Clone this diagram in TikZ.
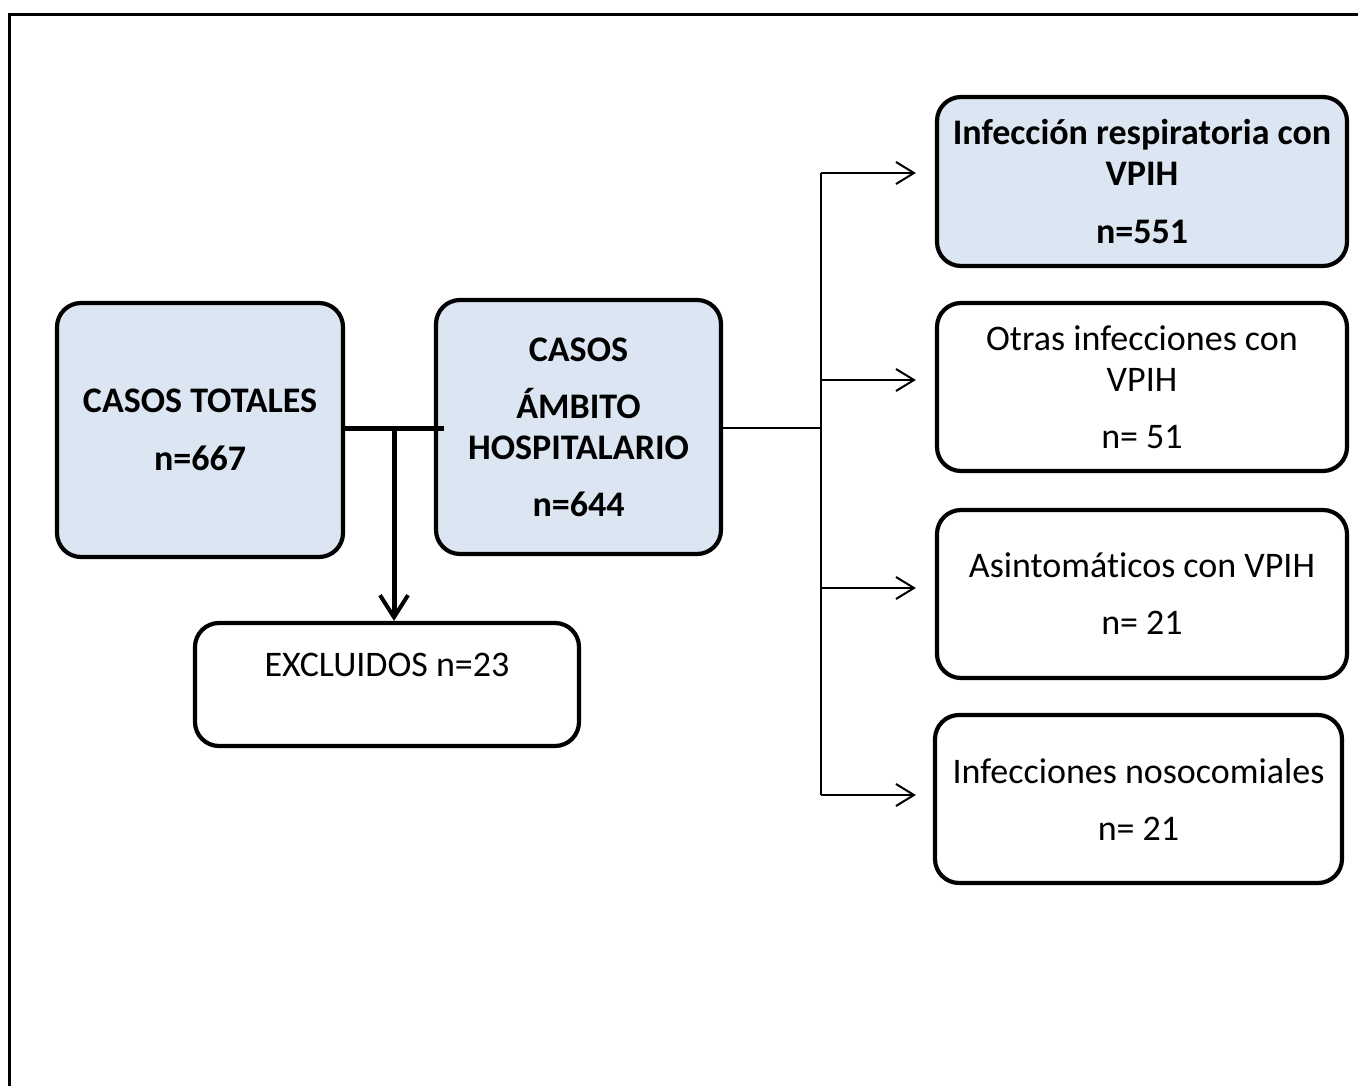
\documentclass[tikz,border=0pt]{standalone}
\usepackage{fontspec}
\setmainfont{Carlito}[Ligatures=NoCommon]
\usetikzlibrary{arrows.meta,calc}
\definecolor{boxblue}{HTML}{DCE6F2}
\begin{document}
\begin{tikzpicture}[x=1pt,y=-1pt,
  every node/.style={font=\fontsize{36}{41}\selectfont},
  box/.style={draw=black, line width=4.2pt, rounded corners=24pt, align=center, inner sep=0pt},
  bluebox/.style={box, fill=boxblue},
  whitebox/.style={box, fill=white},
  thinline/.style={line width=2pt},
  thickline/.style={line width=5pt},
  thinarrow/.style={thinline, -{Straight Barb[length=18pt,width=22pt,line width=2pt]}},
  thickarrow/.style={thickline, -{Straight Barb[length=22pt,width=28pt,line width=4pt]}}
]
\useasboundingbox (0,0) rectangle (1358,1086);
% outer frame (top and left edges)
\draw[line width=3.5pt] (9.5,1086) -- (9.5,14.5) -- (1358,14.5);

\node[bluebox, minimum width=286pt, minimum height=254pt] (tot) at (200,430)
  {\bfseries CASOS TOTALES\\[17pt]\bfseries n=667};
\node[bluebox, minimum width=285pt, minimum height=254pt] (hosp) at (578.5,427)
  {\bfseries CASOS\\[16pt]\bfseries ÁMBITO\\\bfseries HOSPITALARIO\\[16pt]\bfseries n=644};
\node[whitebox, minimum width=384pt, minimum height=123pt] (exc) at (387,684.5) {};
\node (exctext) at (387,665) {EXCLUIDOS n=23};

\node[bluebox, minimum width=410pt, minimum height=169pt] (r1) at (1142,181.5)
  {\bfseries Infección respiratoria con\\\bfseries VPIH\\[17pt]\bfseries n=551};
\node[whitebox, minimum width=410pt, minimum height=168pt] (r2) at (1142,387)
  {Otras infecciones con\\VPIH\\[16pt]n= 51};
\node[whitebox, minimum width=410pt, minimum height=168pt] (r3) at (1142,594)
  {Asintomáticos con VPIH\\[16pt]n= 21};
\node[whitebox, minimum width=407pt, minimum height=168pt] (r4) at (1138.5,799)
  {Infecciones nosocomiales\\[16pt]n= 21};

% left junction
\coordinate (j) at (394,428);
\draw[thickline] (tot.east |- j) -- ($(hosp.west |- j)+(10,0)$);
\draw[thickarrow] (j) -- (exc.north -| j);

% right bus
\coordinate (b0) at (821,428);
\coordinate (b1) at (821,173);
\coordinate (b2) at (821,380);
\coordinate (b3) at (821,588);
\coordinate (b4) at (821,795);
\draw[thinline] (hosp.east |- b0) -- (b0);
\draw[thinline] (b1) -- (b4);
\draw[thinarrow] (b1) -- ($(r1.west |- b1)+(-19,0)$);
\draw[thinarrow] (b2) -- ($(r2.west |- b2)+(-19,0)$);
\draw[thinarrow] (b3) -- ($(r3.west |- b3)+(-19,0)$);
\draw[thinarrow] (b4) -- ($(r4.west |- b4)+(-17,0)$);
\end{tikzpicture}
\end{document}
